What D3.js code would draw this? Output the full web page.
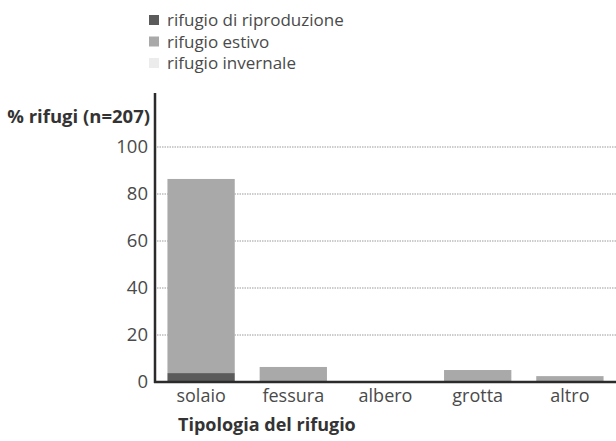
<!DOCTYPE html>
<html>
<head>
<meta charset="utf-8">
<script src="https://cdn.jsdelivr.net/npm/d3@7/dist/d3.min.js"></script>
<style>
  html, body { margin: 0; padding: 0; background: #fff; }
  svg { display: block; font-family: "Open Sans", "Noto Sans", sans-serif; }
</style>
</head>
<body>
<svg id="chart" width="616" height="441"></svg>
<script>
// Shelter types and share of shelters (%) per season of use
const categories = ["solaio", "fessura", "albero", "grotta", "altro"];
const riproduzione = [3.8, 0, 0, 0, 0];
const estivo = [82.6, 6.4, 0, 5.1, 2.5];
const invernale = [0, 0, 0, 0, 0];
const seriesNames = ["rifugio di riproduzione", "rifugio estivo", "rifugio invernale"];
const seriesColors = ["#5b5b5b", "#a9a9a9", "#ececec"];
const yTicks = [0, 20, 40, 60, 80, 100];

(function () {
  const svg = d3.select("#chart");
  const plotLeft = 155, plotRight = 616, plotTop = 147, plotBottom = 382;

  const x = d3.scaleBand().domain(categories).range([plotLeft, plotRight]).paddingInner(0.27).paddingOuter(0.135);
  const y = d3.scaleLinear().domain([0, 100]).range([plotBottom, plotTop]);

  // gridlines
  svg.append("g").selectAll("line").data(yTicks.filter(d => d > 0)).join("line")
    .attr("x1", plotLeft + 2).attr("x2", plotRight)
    .attr("y1", d => y(d)).attr("y2", d => y(d))
    .attr("stroke", "#9a9a9a").attr("stroke-width", 1).attr("stroke-dasharray", "1.5,1");

  // stacked bars
  const rows = categories.map((c, i) => ({ cat: c, r: riproduzione[i], e: estivo[i], w: invernale[i] }));
  const stack = d3.stack().keys(["r", "e", "w"])(rows);
  svg.append("g").selectAll("g").data(stack).join("g")
    .attr("fill", (d, i) => seriesColors[i])
    .selectAll("rect").data(d => d).join("rect")
    .attr("x", d => x(d.data.cat))
    .attr("width", x.bandwidth())
    .attr("y", d => y(d[1]))
    .attr("height", d => Math.max(0, y(d[0]) - y(d[1])));

  // y axis
  const yAxis = d3.axisLeft(y).tickValues(yTicks).tickSize(0).tickPadding(7);
  const gy = svg.append("g").attr("transform", `translate(${plotLeft},0)`).call(yAxis);
  gy.select(".domain").remove();
  gy.selectAll("text").attr("font-size", 18.5).attr("fill", "#4a4a4a")
    .attr("font-family", "'Open Sans', sans-serif");
  svg.append("line").attr("x1", plotLeft).attr("x2", plotLeft).attr("y1", 93).attr("y2", plotBottom + 1)
    .attr("stroke", "#2b2b2b").attr("stroke-width", 2.5);

  // x axis
  const xAxis = d3.axisBottom(x).tickSize(0).tickPadding(7);
  const gx = svg.append("g").attr("transform", `translate(0,${plotBottom})`).call(xAxis);
  gx.select(".domain").remove();
  gx.selectAll("text").attr("font-size", 18).attr("fill", "#4a4a4a")
    .attr("font-family", "'Open Sans', sans-serif");
  svg.append("line").attr("x1", plotLeft - 1).attr("x2", plotRight).attr("y1", plotBottom).attr("y2", plotBottom)
    .attr("stroke", "#2b2b2b").attr("stroke-width", 2.5);

  // axis titles
  svg.append("text").attr("x", 150).attr("y", 123).attr("text-anchor", "end")
    .attr("font-size", 18.5).attr("font-weight", "bold").attr("fill", "#333")
    .text("% rifugi (n=207)");
  svg.append("text").attr("x", 178).attr("y", 431)
    .attr("font-size", 18).attr("font-weight", "bold").attr("fill", "#333")
    .text("Tipologia del rifugio");

  // legend
  const lg = svg.append("g").selectAll("g").data(seriesNames).join("g")
    .attr("transform", (d, i) => `translate(149,${15 + i * 21.5})`);
  lg.append("rect").attr("width", 10).attr("height", 10).attr("fill", (d, i) => seriesColors[i]);
  lg.append("text").attr("x", 18).attr("y", 11).attr("font-size", 17).attr("fill", "#4a4a4a")
    .text(d => d);
})();
</script>
</body>
</html>
